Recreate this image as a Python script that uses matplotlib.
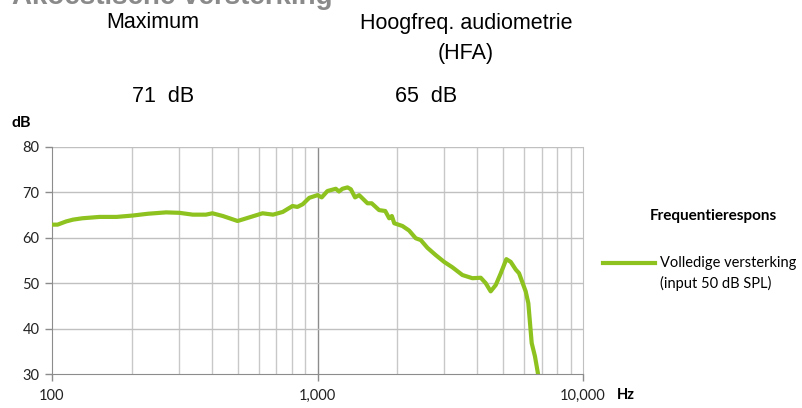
import matplotlib
matplotlib.use("Agg")
import matplotlib.pyplot as plt
from matplotlib.ticker import FixedLocator, NullFormatter
import numpy as np

# frequency response
freq = [100, 105, 113, 120, 130, 151, 175, 201, 230, 269, 302, 339, 380, 402,
        440, 500, 540, 621, 680, 740, 805, 840, 880, 931, 1000, 1037, 1090,
        1172, 1205, 1242, 1297, 1335, 1385, 1435, 1543, 1600, 1706, 1800,
        1862, 1906, 1946, 2089, 2213, 2344, 2449, 2594, 2787, 2998, 3222,
        3514, 3831, 4120, 4302, 4490, 4693, 4902, 5144, 5342, 5581, 5742,
        6083, 6224, 6409, 6592, 6771]
gain = [62.9, 62.9, 63.6, 64.0, 64.3, 64.6, 64.6, 64.9, 65.3, 65.6, 65.5, 65.1,
        65.1, 65.4, 64.8, 63.7, 64.3, 65.4, 65.1, 65.7, 67.0, 66.8, 67.4, 68.8,
        69.4, 68.9, 70.3, 70.8, 70.2, 70.8, 71.1, 70.7, 68.9, 69.4, 67.6, 67.6,
        66.1, 65.9, 64.3, 64.8, 63.2, 62.6, 61.6, 59.9, 59.5, 57.8, 56.2, 54.7,
        53.5, 51.8, 51.1, 51.2, 50.0, 48.2, 49.6, 52.2, 55.3, 54.7, 53.0, 52.2,
        48.2, 45.6, 36.8, 33.9, 30.0]

y_ticks = [30, 40, 50, 60, 70, 80]
x_labels = {100: "100", 1000: "1,000", 10000: "10,000"}

green = "#8dc21f"
chart_font = ["Lato", "DejaVu Sans"]
head_font = ["Liberation Sans", "DejaVu Sans"]

fig = plt.figure(figsize=(8.02, 4.08), dpi=100)
W, H = 802, 408
ax = fig.add_axes([52 / W, 1 - 374 / H, (583 - 52) / W, (374 - 147) / H])

ax.semilogx(freq, gain, color=green, lw=3, solid_joinstyle="round", zorder=3)
ax.set_xlim(100, 10000)
ax.set_ylim(30, 80)

minor = [m * d for d in (100, 1000) for m in range(2, 10)]
for f in minor:
    ax.axvline(f, color="#c8c8c8", lw=1, zorder=1)
ax.axvline(1000, color="#8c8c8c", lw=1, zorder=1)
for v in y_ticks[1:]:
    ax.axhline(v, color="#c0c0c0", lw=1, zorder=1)

ax.xaxis.set_major_locator(FixedLocator(list(x_labels)))
ax.set_xticklabels(list(x_labels.values()))
ax.xaxis.set_minor_locator(FixedLocator([]))
ax.xaxis.set_minor_formatter(NullFormatter())
ax.set_yticks(y_ticks)
ax.tick_params(axis="both", length=5, width=1, color="#8c8c8c", labelsize=10.5,
               pad=4)
ax.tick_params(axis="x", pad=6)
for lab in ax.get_xticklabels() + ax.get_yticklabels():
    lab.set_family(chart_font)
    lab.set_color("#222222")

ax.spines["top"].set_visible(False)
ax.spines["left"].set_color("#8c8c8c")
ax.spines["bottom"].set_color("#8c8c8c")
ax.spines["right"].set_color("#c0c0c0")

# axis unit labels
fig.text(12 / W, 1 - 123 / H, "dB", fontsize=11.5, fontweight="bold",
         family=chart_font, va="center", ha="left")
fig.text(617 / W, 1 - 395 / H, "Hz", fontsize=10.5, fontweight="bold",
         family=chart_font, va="center", ha="left")

# legend
fig.text(650 / W, 1 - 216 / H, "Frequentierespons", fontsize=11,
         fontweight="bold", family=chart_font, va="center", ha="left")
fig.add_artist(plt.Line2D([603 / W, 655 / W], [1 - 263 / H, 1 - 263 / H],
                          color=green, lw=3, transform=fig.transFigure))
fig.text(660 / W, 1 - 263 / H, "Volledige versterking", fontsize=10.5,
         family=chart_font, va="center", ha="left")
fig.text(660 / W, 1 - 283 / H, "(input 50 dB SPL)", fontsize=10.5,
         family=chart_font, va="center", ha="left")

# header (title is cut off by the top edge in the reference)
fig.text(12 / W, 1 - 10 / H, "Akoestische versterking", fontsize=20,
         fontweight="bold", family=head_font, color="#8a8a8a",
         va="bottom", ha="left")
fig.text(153 / W, 1 - 23 / H, "Maximum", fontsize=15.5, family=head_font,
         va="center", ha="center")
fig.text(163 / W, 1 - 97 / H, "71  dB", fontsize=15.5, family=head_font,
         va="center", ha="center")
fig.text(466 / W, 1 - 24 / H, "Hoogfreq. audiometrie", fontsize=15.5,
         family=head_font, va="center", ha="center")
fig.text(466 / W, 1 - 53 / H, "(HFA)", fontsize=15.5, family=head_font,
         va="center", ha="center")
fig.text(426 / W, 1 - 97 / H, "65  dB", fontsize=15.5, family=head_font,
         va="center", ha="center")

fig.savefig("out.png", dpi=100)
